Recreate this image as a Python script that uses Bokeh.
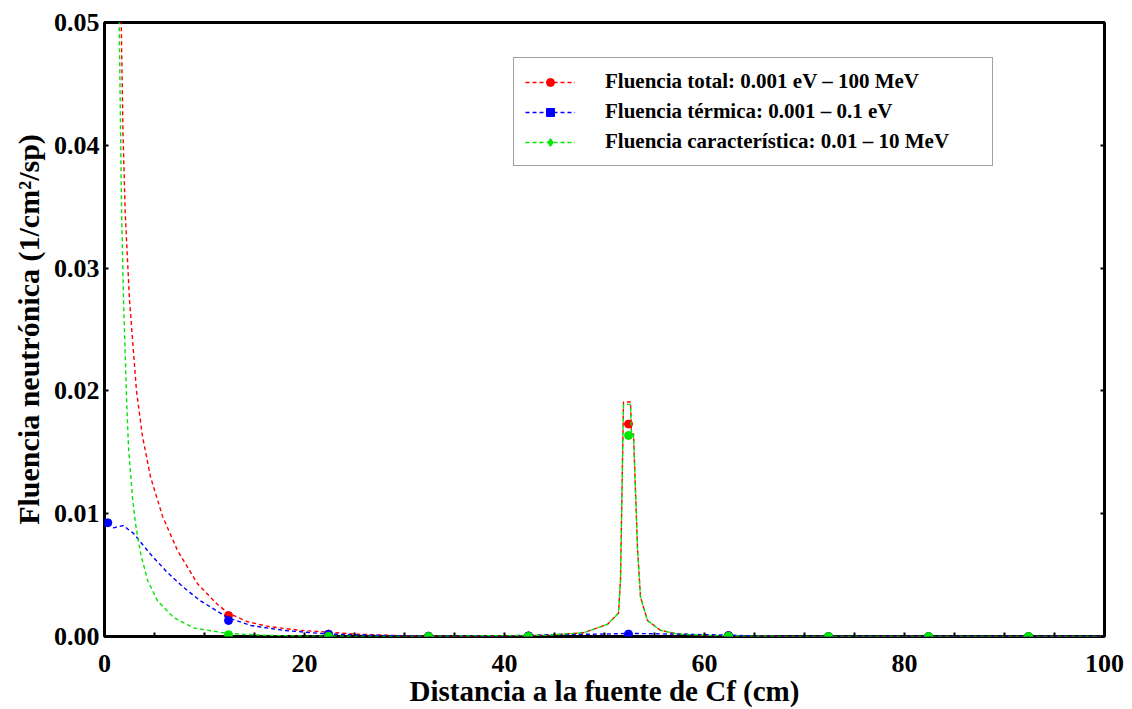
import math
from bokeh.plotting import figure
from bokeh.models import (ColumnDataSource, Legend, LegendItem, LinearAxis, Range1d,
                          FixedTicker, PrintfTickFormatter, CustomJSTickFormatter)
from bokeh.embed import file_html
from bokeh.resources import INLINE

nan = float("nan")

# ---- continuous curves ----
total_x = [1.35, 1.67, 1.85, 2.07, 2.5, 3.2, 3.8, 4.6, 5.8, 7.3, 9.3, 11.3, 12.4, 14.3, 16.5,
           19.6, 25.0, 30.0, 35.0, 40.0, 44.0, 47.9, 50.3, 51.4, 51.6, 51.9, 52.6, 52.7,
           52.9, 53.3, 53.6, 54.3, 55.6, 57.3, 60.0, 64.0, 70.0, 100.0]
total_y = [0.065, 0.0500, 0.0410, 0.0345, 0.0274, 0.0200, 0.0163, 0.0130, 0.0098, 0.0070,
           0.0043, 0.0026, 0.0019, 0.0012, 0.0008, 0.0005, 0.0002, 0.00005, 0.0, 0.00005,
           0.0001, 0.0003, 0.0010, 0.0019, 0.0046, 0.0191, 0.0191, 0.0165, 0.0165, 0.0072,
           0.0032, 0.0013, 0.0005, 0.0002, 0.0001, 0.00003, 0.0, 0.0]

term_x = [0.33, 0.9, 1.9, 2.4, 2.9, 3.3, 3.6, 4.6, 6.3, 7.9, 9.6, 12.3, 14.6, 17.9, 22.3,
          27.0, 32.0, 40.0, 45.0, 50.0, 52.5, 57.0, 60.0, 63.0, 66.0, 100.0]
term_y = [0.00926, 0.00885, 0.00904, 0.0087, 0.0084, 0.0080, 0.0077, 0.0067, 0.0052, 0.0040,
          0.0029, 0.00155, 0.0009, 0.0005, 0.0002, 0.0001, 0.00003, 0.00005, 0.00015,
          0.0002, 0.00025, 0.0002, 0.00015, 0.0001, 0.0, 0.0]

char_x = [1.25, 1.47, 1.7, 1.9, 2.2, 2.4, 2.8, 3.1, 3.6, 4.3, 5.3, 6.9, 8.9, 12.3, 16.0, 20.0,
          30.0, 44.0, 47.9, 50.3, 51.4, 51.6, 51.9, 52.6, 52.7, 52.9, 53.3, 53.6, 54.3,
          55.6, 57.3, 60.0, 64.0, 70.0, 100.0]
char_y = [0.065, 0.0500, 0.0350, 0.0274, 0.0195, 0.0154, 0.0113, 0.0092, 0.0068, 0.0046,
          0.0029, 0.00155, 0.0007, 0.00025, 0.0001, 0.00003, 0.0, 0.0001, 0.0003, 0.0010,
          0.0019, 0.0046, 0.0189, 0.0189, 0.0165, 0.0165, 0.0072, 0.0032, 0.0013, 0.0005,
          0.0002, 0.0001, 0.00003, 0.0, 0.0]

# ---- marker points ----
mk_x = [0.33, 12.4, 22.4, 32.4, 42.4, 52.4, 62.4, 72.4, 82.4, 92.4]
mk_total = [nan, 0.00171, 0.00020, 0.00003, 0.00005, 0.01730, 0.00008, 0.0, 0.0, 0.0]
mk_term = [0.00926, 0.00130, 0.00018, 0.00002, 0.00005, 0.00020, 0.00007, 0.0, 0.0, 0.0]
mk_char = [nan, 0.00015, 0.00002, 0.0, 0.00001, 0.01637, 0.00003, 0.0, 0.0, 0.0]

labels = ["Fluencia total: 0.001 eV \u2013 100 MeV",
          "Fluencia t\u00e9rmica: 0.001 \u2013 0.1 eV",
          "Fluencia caracter\u00edstica: 0.01 \u2013 10 MeV"]
colors = ["#ff0000", "#0000ff", "#00e600"]
legend_markers = ["circle", "square", "diamond"]

x_ticks = [0, 20, 40, 60, 80, 100]
x_minor = [5, 10, 15, 25, 30, 35, 45, 50, 55, 65, 70, 75, 85, 90, 95]
y_ticks = [0.0, 0.01, 0.02, 0.03, 0.04, 0.05]

FONT = "Liberation Serif"

p = figure(width=1124, height=709, x_range=Range1d(0, 100), y_range=Range1d(0, 0.05),
           output_backend="svg", toolbar_location=None,
           min_border_left=104, min_border_right=20, min_border_top=22, min_border_bottom=73)
p.xgrid.visible = False
p.ygrid.visible = False
p.outline_line_color = "black"
p.outline_line_width = 3
p.outline_line_alpha = 1.0

series = [(total_x, total_y, mk_total), (term_x, term_y, mk_term), (char_x, char_y, mk_char)]
items = []
for (lx, ly, my), c, lab, lm in zip(series, colors, labels, legend_markers):
    r_line = p.line(lx, ly, line_color=c, line_width=1.4, line_dash="4 3")
    src = ColumnDataSource(data=dict(x=mk_x, y=my))
    p.scatter("x", "y", source=src, marker="circle", size=8, fill_color=c, line_color=c)
    # legend-only marker (zero size in the plot, legend draws its own size)
    r_leg = p.scatter("x", "y", source=src, marker=lm, size=0, fill_color=c, line_color=c)
    items.append(LegendItem(label=lab, renderers=[r_line, r_leg]))

legend = Legend(items=items, location=(409, 470), border_line_color="#444444",
                border_line_width=1.5, padding=11, spacing=5, glyph_width=50, glyph_height=20,
                label_height=20, label_standoff=30, label_width=376, margin=0,
                label_text_font=FONT, label_text_font_style="bold",
                label_text_font_size="21px", label_text_color="black")
p.add_layout(legend, "center")

for ax in (p.xaxis[0], p.yaxis[0]):
    ax.axis_line_color = None
    ax.major_tick_in = 4
    ax.major_tick_out = 0
    ax.major_tick_line_width = 2
    ax.minor_tick_in = 4
    ax.minor_tick_out = 0
    ax.minor_tick_line_width = 2
    ax.major_label_text_font = FONT
    ax.major_label_text_font_style = "bold"
    ax.major_label_text_font_size = "26px"
    ax.major_label_text_color = "black"
    ax.axis_label_text_font = FONT
    ax.axis_label_text_font_style = "bold"
    ax.axis_label_text_color = "black"

p.xaxis.axis_label_text_font_size = "29px"
p.yaxis.axis_label_text_font_size = "30px"
p.xaxis.ticker = FixedTicker(ticks=x_ticks, minor_ticks=x_minor)
p.yaxis.ticker = FixedTicker(ticks=y_ticks)
p.yaxis.formatter = PrintfTickFormatter(format="%.2f")
p.xaxis.major_label_standoff = 18
p.yaxis.major_label_standoff = 5
p.xaxis.axis_label = "Distancia a la fuente de Cf (cm)"
p.yaxis.axis_label = "Fluencia neutr\u00f3nica (1/cm\u00b2/sp)"
p.xaxis.axis_label_standoff = 0
p.yaxis.axis_label_standoff = 6

right = LinearAxis(ticker=FixedTicker(ticks=y_ticks), axis_line_color=None,
                   major_tick_in=4, major_tick_out=0, major_tick_line_width=2,
                   minor_tick_line_color=None,
                   formatter=CustomJSTickFormatter(code="return ''"),
                   major_label_standoff=0)
p.add_layout(right, "right")

open("out.html", "w").write(file_html(p, INLINE))
